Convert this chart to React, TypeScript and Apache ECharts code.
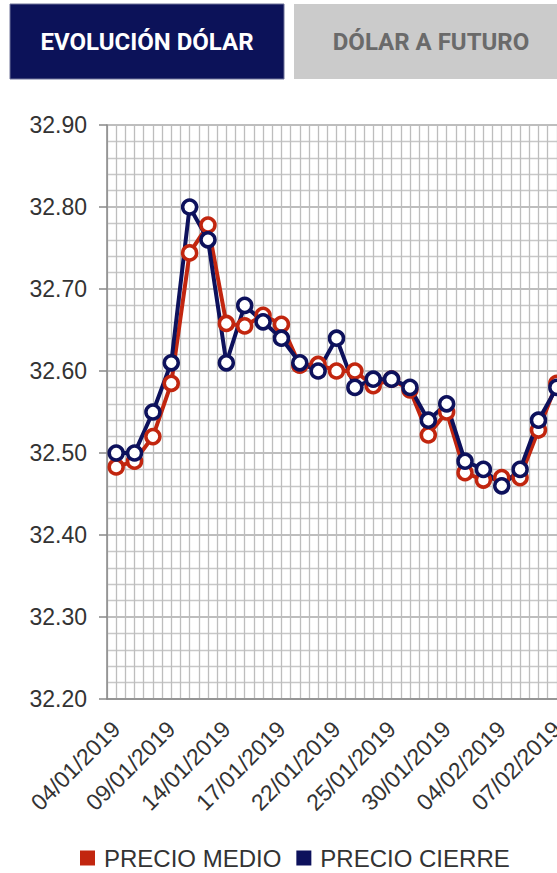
import React, { useEffect, useRef } from "react";
import * as echarts from "echarts";

const categories = [
  "04/01/2019", "07/01/2019", "08/01/2019", "09/01/2019", "10/01/2019",
  "11/01/2019", "14/01/2019", "15/01/2019", "16/01/2019", "17/01/2019",
  "18/01/2019", "21/01/2019", "22/01/2019", "23/01/2019", "24/01/2019",
  "25/01/2019", "28/01/2019", "29/01/2019", "30/01/2019", "31/01/2019",
  "01/02/2019", "04/02/2019", "05/02/2019", "06/02/2019", "07/02/2019",
];

const precioMedio = [
  32.483, 32.49, 32.52, 32.585, 32.744, 32.778, 32.658, 32.655, 32.668, 32.657,
  32.607, 32.608, 32.6, 32.6, 32.582, 32.59, 32.577, 32.522, 32.55, 32.476,
  32.467, 32.47, 32.47, 32.528, 32.585,
];

const precioCierre = [
  32.5, 32.5, 32.55, 32.61, 32.8, 32.76, 32.61, 32.68, 32.66, 32.64,
  32.61, 32.6, 32.64, 32.58, 32.59, 32.59, 32.58, 32.54, 32.56, 32.49,
  32.48, 32.46, 32.48, 32.54, 32.58,
];

const tabLabels = ["EVOLUCIÓN DÓLAR", "DÓLAR A FUTURO"];
const seriesNames = ["PRECIO MEDIO", "PRECIO CIERRE"];

const RED = "#c2260f";
const NAVY = "#0d115c";

export default function App() {
  const ref = useRef<HTMLDivElement>(null);
  useEffect(() => {
    if (!ref.current) return;
    const chart = echarts.init(ref.current, undefined, { renderer: "svg" });
    const n = categories.length;
    chart.setOption({
      animation: false,
      backgroundColor: "#ffffff",
      graphic: [
        { type: "rect", shape: { x: 10, y: 4, width: 274, height: 75 }, style: { fill: "#0c1259", stroke: "#6f7399", lineWidth: 1 } },
        { type: "text", x: 147, y: 42, style: { text: tabLabels[0], fill: "#ffffff", font: "bold 24px Roboto", textAlign: "center", textVerticalAlign: "middle" } },
        { type: "rect", shape: { x: 294, y: 4, width: 274, height: 75 }, style: { fill: "#cbcbcb" } },
        { type: "text", x: 431, y: 42, style: { text: tabLabels[1], fill: "#6a6a6a", font: "bold 24px Roboto", textAlign: "center", textVerticalAlign: "middle" } },
      ],
      legend: {
        left: 75,
        top: 841,
        icon: "rect",
        itemWidth: 15,
        itemHeight: 15,
        itemGap: 15,
        textStyle: { fontSize: 24, color: "#333", fontFamily: "Liberation Sans", padding: [0, 0, 0, 4] },
        data: [
          { name: seriesNames[0], itemStyle: { color: RED, borderWidth: 0 } },
          { name: seriesNames[1], itemStyle: { color: NAVY, borderWidth: 0 } },
        ],
      },
      grid: { left: 107, top: 125, right: 14, bottom: 174 },
      xAxis: [
        {
          type: "category",
          data: categories,
          boundaryGap: true,
          axisLine: { lineStyle: { color: "#888", width: 1.5 } },
          axisTick: { interval: 0, length: 8, lineStyle: { color: "#888", width: 1.5 } },
          axisLabel: { interval: 2, rotate: 45, margin: 26, fontSize: 23, color: "#333", fontFamily: "Liberation Sans" },
          splitLine: { show: false },
        },
        {
          type: "value",
          min: 0,
          max: n * 2,
          interval: 1,
          show: true,
          position: "bottom",
          axisLine: { show: false },
          axisTick: { show: false },
          axisLabel: { show: false },
          splitLine: { show: true, lineStyle: { color: "#bdbdbd", width: 1.3 } },
        },
      ],
      yAxis: {
        type: "value",
        min: 32.2,
        max: 32.9,
        interval: 0.1,
        axisLine: { show: true, lineStyle: { color: "#888", width: 1.5 } },
        axisTick: { show: true, length: 8, lineStyle: { color: "#888", width: 1.5 } },
        axisLabel: { fontSize: 23, color: "#333", fontFamily: "Liberation Sans", margin: 20, formatter: (v: number) => v.toFixed(2) },
        splitLine: { show: true, lineStyle: { color: "#a8a8a8", width: 1.5 } },
        minorTick: { show: false, splitNumber: 5 },
        minorSplitLine: { show: true, lineStyle: { color: "#c8c8c8", width: 1.3 } },
      },
      series: [
        {
          name: seriesNames[0],
          type: "line",
          xAxisIndex: 0,
          data: precioMedio,
          color: RED,
          symbol: "circle",
          symbolSize: 14,
          showSymbol: true,
          showAllSymbol: true,
          lineStyle: { color: RED, width: 4 },
          itemStyle: { color: "#ffffff", borderColor: RED, borderWidth: 3.5 },
        },
        {
          name: seriesNames[1],
          type: "line",
          xAxisIndex: 0,
          data: precioCierre,
          color: NAVY,
          symbol: "circle",
          symbolSize: 14,
          showSymbol: true,
          showAllSymbol: true,
          lineStyle: { color: NAVY, width: 4 },
          itemStyle: { color: "#ffffff", borderColor: NAVY, borderWidth: 3.5 },
        },
      ],
    });
    return () => chart.dispose();
  }, []);
  return (
    <div style={{ position: "fixed", left: 0, top: 0, width: 557, height: 873, overflow: "hidden", background: "#fff" }}>
      <div ref={ref} style={{ width: 580, height: 873 }} />
    </div>
  );
}
